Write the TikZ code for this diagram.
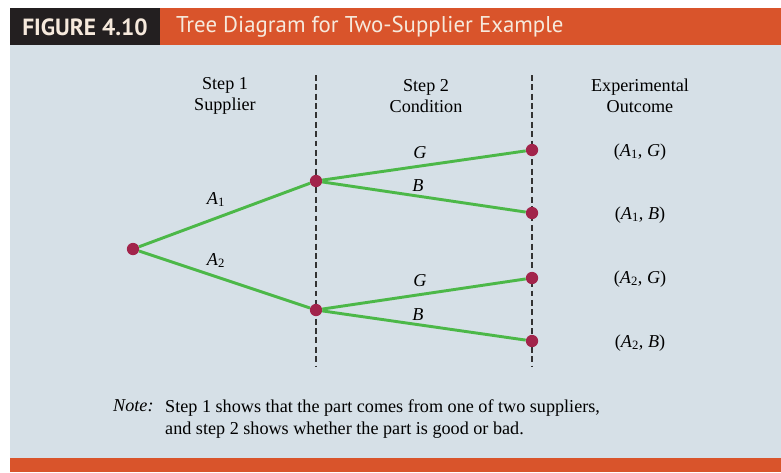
\documentclass[tikz,border=0pt]{standalone}
\usepackage{fontspec}
\setmainfont{Liberation Serif}
\newfontfamily\headfont{PT Sans}
\usetikzlibrary{positioning}
\definecolor{figorange}{HTML}{D9542B}
\definecolor{figblack}{HTML}{231F20}
\definecolor{panelblue}{HTML}{D6E0E7}
\definecolor{branchgreen}{HTML}{4CB848}
\definecolor{dotred}{HTML}{A2244B}
\definecolor{headtext}{HTML}{F6E9DC}
\tikzset{
  branch/.style={draw=branchgreen,line width=2.5pt},
  dot/.style={circle,fill=dotred,inner sep=0pt,minimum size=10.5pt},
  divider/.style={draw=black!80,line width=0.9pt,dash pattern=on 5pt off 3pt},
  colhead/.style={align=center,font=\fontsize{15.5}{18}\selectfont},
  brlabel/.style={font=\fontsize{15.5}{18}\selectfont\itshape},
  outcome/.style={font=\fontsize{15.5}{18}\selectfont}
}
\newcommand{\Ai}[1]{\textit{A}\textsubscript{\upshape#1}}

\begin{document}
\begin{tikzpicture}[x=0.03cm,y=-0.03cm]
\useasboundingbox (0,0) rectangle (781,472);

% frame
\fill[white] (0,0) rectangle (781,472);
\fill[figblack] (10,8) rectangle (160,45);
\fill[figorange] (160,8) rectangle (781,45);
\fill[panelblue] (10,45) rectangle (781,458);
\fill[figorange] (10,458) rectangle (781,472);
\node[text=headtext,font=\headfont\bfseries\fontsize{20}{22}\selectfont] (fignum) at (85,27) {FIGURE 4.10};
\node[text=headtext,font=\headfont\fontsize{19.5}{22}\selectfont,anchor=west] (figtitle) at (172,27) {Tree Diagram for Two-Supplier Example};

% column heads
\node[colhead] (head1) at (225,96) {Step 1\\Supplier};
\node[colhead] (head2) at (426,96) {Step 2\\Condition};
\node[colhead] (head3) at (640,96) {Experimental\\Outcome};

% dividers
\coordinate (div1top) at (316,75);
\coordinate (div1bot) at (316,367);
\coordinate (div2top) at (532,75);
\coordinate (div2bot) at (532,367);
\draw[divider] (div1top) -- (div1bot);
\draw[divider] (div2top) -- (div2bot);

% tree
\node[dot] (root) at (133,249) {};
\node[dot] (supA) at (316,181) {};
\node[dot] (supB) at (316,310) {};
\node[dot] (outAG) at (532,150) {};
\node[dot] (outAB) at (532,213) {};
\node[dot] (outBG) at (532,278) {};
\node[dot] (outBB) at (532,341) {};

\draw[branch] (root) -- node[brlabel,pos=0.45,above=5pt] {\Ai{1}} (supA);
\draw[branch] (root) -- node[brlabel,pos=0.45,above=3pt] {\Ai{2}} (supB);
\draw[branch] (supA) -- node[brlabel,pos=0.48,above=2pt] {G} (outAG);
\draw[branch] (supA) -- node[brlabel,pos=0.47,above=-1pt] {B} (outAB);
\draw[branch] (supB) -- node[brlabel,pos=0.48,above=2pt] {G} (outBG);
\draw[branch] (supB) -- node[brlabel,pos=0.47,above=-1pt] {B} (outBB);

% outcomes
\node[outcome] (txtAG) at (640,152) {(\Ai{1}, \textit{G})};
\node[outcome] (txtAB) at (640,215) {(\Ai{1}, \textit{B})};
\node[outcome] (txtBG) at (640,279) {(\Ai{2}, \textit{G})};
\node[outcome] (txtBB) at (640,343) {(\Ai{2}, \textit{B})};

% note
\node[outcome,anchor=north west,inner sep=0pt] (notetag) at (113,399) {\textit{Note:}};
\node[outcome,anchor=north west,inner sep=0pt,align=left,font=\fontsize{15.5}{19}\selectfont] (notetext) at (165,399)
  {Step 1 shows that the part comes from one of two suppliers,\\and step 2 shows whether the part is good or bad.};

\end{tikzpicture}
\end{document}
